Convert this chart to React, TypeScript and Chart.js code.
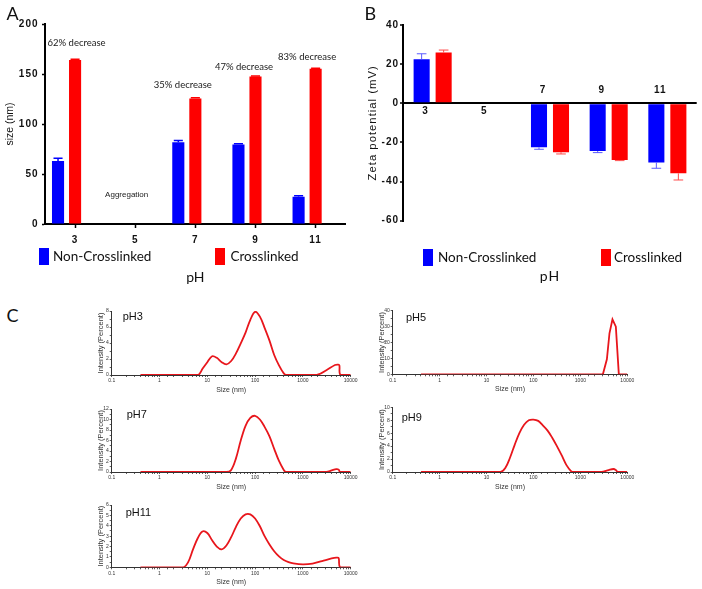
import React, { useEffect, useRef } from 'react';
import { Chart, registerables } from 'chart.js';

Chart.register(...registerables);
Chart.defaults.font.family = '"Liberation Sans", Arial, Helvetica, sans-serif';
Chart.defaults.color = '#111';

// ---------------- data ----------------
const phCategories = ['3', '5', '7', '9', '11'];
const seriesNames = ['Non-Crosslinked', 'Crosslinked'];

// Panel A: particle size (nm)
const sizeNonCrosslinked = [63, null, 81.8, 79.4, 27.3];
const sizeNonCrosslinkedErr = [2.7, null, 1.6, 0.8, 1.0];
const sizeCrosslinked = [164, null, 125.5, 147.5, 155.2];
const sizeCrosslinkedErr = [0.8, null, 0.8, 0.5, 0.6];
const sizeSpacer = [null, null, null, null, null];
const sizeNotes = ['62% decrease', 'Aggregation', '35% decrease', '47% decrease', '83% decrease'];
const sizeAxisTicks = [0, 50, 100, 150, 200];

// Panel B: zeta potential (mV)
const zetaNonCrosslinked = [22.5, null, -22.5, -24.4, -30.2];
const zetaNonCrosslinkedErr = [2.8, null, 1.0, 0.8, 3.0];
const zetaCrosslinked = [25.9, null, -25.0, -29.0, -35.8];
const zetaCrosslinkedErr = [1.3, null, 0.9, 0.3, 3.4];
const zetaAxisTicks = [-60, -40, -20, 0, 20, 40];

// Panel C: DLS intensity distributions (size in nm, intensity in %)
const ph3Size = [0.4, 1, 5, 6.5, 8, 10, 12.6, 15.8, 20, 25.1, 31.6, 39.8, 50.1, 63.1, 79.4, 100, 126, 158, 200, 251, 316, 398, 447, 1000, 1950, 3150, 4700, 5500, 5800, 6100, 10000];
const ph3Intensity = [0, 0, 0, 0, 0.8, 1.6, 2.35, 2.15, 1.6, 1.33, 1.75, 2.7, 3.95, 5.3, 6.9, 7.9, 7.3, 5.9, 4.3, 2.5, 1.2, 0.2, 0, 0, 0, 0.63, 1.25, 1.3, 1.2, 0, 0];
const ph5Size = [0.4, 1000, 3020, 3670, 4170, 4830, 5700, 6600, 10000];
const ph5Intensity = [0, 0, 0, 9.4, 25.8, 34.6, 30, 0, 0];
const ph7Size = [0.4, 1, 10, 25.1, 31.6, 39.8, 50.1, 63.1, 79.4, 100, 126, 158, 200, 251, 316, 398, 447, 1000, 3100, 4000, 5000, 5600, 6000, 10000];
const ph7Intensity = [0, 0, 0, 0, 0.4, 2.6, 6.0, 8.8, 10.3, 10.7, 10.0, 8.6, 6.8, 4.4, 2.1, 0.4, 0, 0, 0, 0.3, 0.55, 0.45, 0, 0];
const ph9Size = [0.4, 1, 10, 20, 25.1, 31.6, 39.8, 50.1, 63.1, 79.4, 100, 126, 158, 200, 251, 316, 398, 501, 631, 708, 1000, 2800, 4000, 5070, 5700, 6300, 10000];
const ph9Intensity = [0, 0, 0, 0, 0.6, 2.2, 4.2, 6.0, 7.3, 8.0, 8.1, 7.9, 7.2, 6.4, 5.3, 4.0, 2.6, 1.1, 0.15, 0, 0, 0, 0.3, 0.46, 0.3, 0, 0];
const ph11Size = [0.4, 1, 3.16, 3.98, 5.0, 6.3, 7.9, 10, 12.6, 15.8, 20, 25.1, 31.6, 39.8, 50.1, 63.1, 79.4, 100, 126, 158, 200, 251, 316, 398, 501, 631, 1000, 1585, 2512, 3981, 5012, 5600, 6000, 10000];
const ph11Intensity = [0, 0, 0, 0.5, 1.7, 2.8, 3.45, 3.3, 2.6, 2.0, 1.73, 2.1, 2.9, 3.9, 4.7, 5.1, 5.1, 4.7, 3.95, 3.0, 2.2, 1.55, 1.05, 0.7, 0.5, 0.38, 0.29, 0.36, 0.6, 0.85, 0.93, 0.9, 0, 0];

// ---------------- styles ----------------
const BLUE = '#0000fe';
const RED = '#fe0000';
const BLUE_ERR = '#5a5aff';
const RED_ERR = '#ff4a4a';
const LINE_RED = '#e8161c';
const AXIS_GREY = '#333';
const HUMANIST = 'Lato, "Open Sans", sans-serif';
const ARIAL = '"Liberation Sans", Arial, sans-serif';

// ---------------- plugins ----------------
const letterSpacingPlugin = {
  id: 'letterSpacing',
  beforeDraw(chart: any, _a: any, opts: any) {
    Object.values(chart.scales).forEach((s: any) => {
      if (s.__spaced) return;
      s.__spaced = true;
      const dl = s.drawLabels.bind(s);
      const dt = s.drawTitle.bind(s);
      s.drawLabels = (area: any) => {
        const c = s.ctx; const p = c.letterSpacing;
        c.letterSpacing = opts.labels || '0px'; dl(area); c.letterSpacing = p;
      };
      s.drawTitle = (area: any) => {
        const c = s.ctx; const p = c.letterSpacing;
        c.letterSpacing = opts.title || '0px'; dt(area); c.letterSpacing = p;
      };
    });
  },
};

const errorBars = {
  id: 'errorBars',
  afterDatasetsDraw(chart: any, _a: any, opts: any) {
    const { ctx } = chart;
    const yScale = chart.scales.y;
    chart.data.datasets.forEach((ds: any, di: number) => {
      if (!ds.errors) return;
      const meta = chart.getDatasetMeta(di);
      meta.data.forEach((bar: any, i: number) => {
        const v = ds.data[i];
        const e = ds.errors[i];
        if (v == null || e == null) return;
        const yv = yScale.getPixelForValue(v);
        const ye = yScale.getPixelForValue(v >= 0 ? v + e : v - e);
        const half = (bar.width * opts.capRatio) / 2;
        ctx.save();
        ctx.strokeStyle = ds.errorColor;
        ctx.lineWidth = opts.lineWidth;
        ctx.beginPath();
        ctx.moveTo(bar.x, yv);
        ctx.lineTo(bar.x, ye);
        ctx.moveTo(bar.x - half, ye);
        ctx.lineTo(bar.x + half, ye);
        ctx.stroke();
        ctx.restore();
      });
    });
  },
};

const sizeNotesPlugin = {
  id: 'sizeNotes',
  afterDatasetsDraw(chart: any, _a: any, opts: any) {
    const { ctx } = chart;
    const m0 = chart.getDatasetMeta(0);
    const m1 = chart.getDatasetMeta(1);
    const zero = chart.scales.y.getPixelForValue(0);
    ctx.save();
    ctx.fillStyle = '#1a1a1a';
    ctx.textAlign = 'center';
    ctx.textBaseline = 'alphabetic';
    opts.labels.forEach((text: string, i: number) => {
      const cx = (m0.data[i].x + m1.data[i].x) / 2 + opts.dx[i];
      const red = chart.data.datasets[1].data[i];
      if (red == null) {
        ctx.font = opts.noteFont;
        ctx.fillText(text, cx, zero - opts.noteRise);
      } else {
        ctx.font = opts.font;
        ctx.fillText(text, cx, m1.data[i].y - opts.gaps[i]);
      }
    });
    ctx.restore();
  },
};

const zetaCategoryLabels = {
  id: 'zetaCategoryLabels',
  afterDraw(chart: any, _a: any, opts: any) {
    const { ctx } = chart;
    const { x, y } = chart.scales;
    const zero = y.getPixelForValue(0);
    ctx.save();
    ctx.font = opts.font;
    ctx.letterSpacing = '1px';
    ctx.fillStyle = '#111';
    ctx.textAlign = 'center';
    ctx.textBaseline = 'middle';
    chart.data.labels.forEach((lab: string, i: number) => {
      const vals = chart.data.datasets.map((d: any) => d.data[i]).filter((v: any) => v != null);
      const neg = vals.some((v: number) => v < 0);
      const px = x.getPixelForValue(i) + opts.dx;
      const py = neg ? zero - opts.above : zero + opts.below;
      ctx.fillText(lab, px, py);
    });
    ctx.restore();
  },
};

const panelLabelPlugin = {
  id: 'panelLabel',
  afterDraw(chart: any, _a: any, opts: any) {
    const { ctx, chartArea } = chart;
    ctx.save();
    ctx.font = opts.font;
    ctx.fillStyle = '#111';
    ctx.textAlign = 'left';
    ctx.textBaseline = 'alphabetic';
    ctx.fillText(opts.text, chartArea.left + opts.dx, chartArea.top + opts.dy);
    ctx.restore();
  },
};

// ---------------- layout ----------------
type Box = { left: number; top: number; width: number; height: number };
type Area = { left: number; top: number; right: number; bottom: number };

const boxA: Box = { left: 0, top: 0, width: 350, height: 295 };
const areaA: Area = { left: 45, top: 24, right: 345.7, bottom: 224 };
const boxB: Box = { left: 350, top: 0, width: 352, height: 295 };
const areaB: Area = { left: 403.3, top: 25, right: 696.7, bottom: 220.7 };

function fixedTicks(values: number[]) {
  return (scale: any) => {
    scale.ticks = values.map((v) => ({ value: v }));
  };
}

function configA(): any {
  return {
    type: 'bar',
    data: {
      labels: phCategories,
      datasets: [
        { label: seriesNames[0], data: sizeNonCrosslinked, backgroundColor: BLUE, errors: sizeNonCrosslinkedErr, errorColor: BLUE },
        { label: seriesNames[1], data: sizeCrosslinked, backgroundColor: RED, errors: sizeCrosslinkedErr, errorColor: RED },
        { label: '', data: sizeSpacer, backgroundColor: 'rgba(0,0,0,0)' },
      ],
    },
    plugins: [letterSpacingPlugin, errorBars, sizeNotesPlugin],
    options: {
      responsive: false,
      animation: false,
      events: [],
      datasets: { bar: { categoryPercentage: 0.85, barPercentage: 0.71 } },
      layout: {
        padding: { left: 0, top: areaA.top - boxA.top, right: boxA.left + boxA.width - areaA.right, bottom: 0 },
      },
      plugins: {
        legend: { display: false },
        tooltip: { enabled: false },
        letterSpacing: { labels: '1px', title: '0px' },
        errorBars: { capRatio: 0.75, lineWidth: 1.5 },
        sizeNotes: {
          labels: sizeNotes,
          font: `9.5px ${HUMANIST}`,
          noteFont: `8px ${ARIAL}`,
          noteRise: 27,
          gaps: [14, 0, 10.5, 6.5, 9],
          dx: [10, 0, -4, -3, 0],
        },
      },
      scales: {
        x: {
          type: 'category',
          offset: true,
          afterFit: (s: any) => { s.height = boxA.top + boxA.height - areaA.bottom; },
          grid: { display: true, offset: false, drawOnChartArea: false, drawTicks: true, tickLength: 4, tickColor: '#000', tickWidth: 1.5 },
          border: { display: true, color: '#000', width: 2 },
          ticks: { font: { size: 10, weight: 'bold' }, color: '#111', padding: 6, maxRotation: 0 },
          title: { display: true, text: 'pH', font: { family: HUMANIST, size: 14 }, color: '#111', padding: { top: 0, bottom: 9.1 } },
        },
        y: {
          min: 0,
          max: 200,
          afterBuildTicks: fixedTicks(sizeAxisTicks),
          afterFit: (s: any) => { s.width = areaA.left - boxA.left; },
          grid: { display: true, drawOnChartArea: false, drawTicks: true, tickLength: 3, tickColor: '#000', tickWidth: 1.5 },
          border: { display: true, color: '#000', width: 2 },
          ticks: { font: { size: 10, weight: 'bold' }, color: '#111', padding: 3.5 },
          title: { display: true, text: 'size (nm)', font: { size: 10.5 }, color: '#111', padding: { top: 3.7, bottom: 0 } },
        },
      },
    },
  };
}

function configB(): any {
  return {
    type: 'bar',
    data: {
      labels: phCategories,
      datasets: [
        { label: seriesNames[0], data: zetaNonCrosslinked, backgroundColor: BLUE, errors: zetaNonCrosslinkedErr, errorColor: BLUE_ERR },
        { label: seriesNames[1], data: zetaCrosslinked, backgroundColor: RED, errors: zetaCrosslinkedErr, errorColor: RED_ERR },
      ],
    },
    plugins: [letterSpacingPlugin, errorBars, zetaCategoryLabels],
    options: {
      responsive: false,
      animation: false,
      events: [],
      datasets: { bar: { categoryPercentage: 0.75, barPercentage: 0.73 } },
      layout: {
        padding: { left: 0, top: areaB.top - boxB.top, right: boxB.left + boxB.width - areaB.right, bottom: 0 },
      },
      plugins: {
        legend: { display: false },
        tooltip: { enabled: false },
        letterSpacing: { labels: '1px', title: '1px' },
        errorBars: { capRatio: 0.6, lineWidth: 1 },
        zetaCategoryLabels: { font: `bold 10px ${ARIAL}`, dx: -7, above: 13.3, below: 7.7 },
      },
      scales: {
        x: {
          type: 'category',
          offset: true,
          afterFit: (s: any) => { s.height = boxB.top + boxB.height - areaB.bottom; },
          grid: { display: false },
          border: { display: false },
          ticks: { display: false },
          title: { display: true, text: 'pH', font: { family: HUMANIST, size: 14 }, color: '#111', padding: { top: 0, bottom: 9.9 } },
        },
        y: {
          min: -60,
          max: 40,
          afterBuildTicks: fixedTicks(zetaAxisTicks),
          afterFit: (s: any) => { s.width = areaB.left - boxB.left; },
          grid: {
            display: true,
            drawOnChartArea: true,
            drawTicks: true,
            tickLength: 3.3,
            tickColor: '#000',
            tickWidth: 1.5,
            lineWidth: 2,
            color: (ctx: any) => (ctx.tick && ctx.tick.value === 0 ? '#000' : 'rgba(0,0,0,0)'),
          },
          border: { display: true, color: '#000', width: 2 },
          ticks: { font: { size: 10, weight: 'bold' }, color: '#111', padding: 1 },
          title: { display: true, text: 'Zeta potential (mV)', font: { size: 11.3 }, color: '#111', padding: { top: 16, bottom: 0 } },
        },
      },
    },
  };
}

type CPanel = {
  label: string;
  sizes: number[];
  intensity: number[];
  yMax: number;
  yStep: number;
  col: number;
  top: number;
  bottom: number;
  dx: number;
  dy: number;
  smooth: boolean;
};

const cColumns = [
  { canvasLeft: 85, canvasWidth: 275, areaLeft: 111.7, areaRight: 350.7, padLeft: 11.5 },
  { canvasLeft: 368, canvasWidth: 280, areaLeft: 392.7, areaRight: 627.3, padLeft: 9.5 },
];

const cPanels: CPanel[] = [
  { label: 'pH3', sizes: ph3Size, intensity: ph3Intensity, yMax: 8, yStep: 2, col: 0, top: 311, bottom: 375, dx: 11, dy: 8.6, smooth: true },
  { label: 'pH5', sizes: ph5Size, intensity: ph5Intensity, yMax: 40, yStep: 10, col: 1, top: 310.7, bottom: 374.3, dx: 13.3, dy: 9.9, smooth: false },
  { label: 'pH7', sizes: ph7Size, intensity: ph7Intensity, yMax: 12, yStep: 2, col: 0, top: 409, bottom: 472, dx: 15, dy: 9, smooth: true },
  { label: 'pH9', sizes: ph9Size, intensity: ph9Intensity, yMax: 10, yStep: 2, col: 1, top: 407.3, bottom: 472, dx: 9, dy: 13.3, smooth: true },
  { label: 'pH11', sizes: ph11Size, intensity: ph11Intensity, yMax: 6, yStep: 1, col: 0, top: 505, bottom: 567.3, dx: 14, dy: 11, smooth: true },
];

function isPow10(v: number) {
  const l = Math.log10(v);
  return Math.abs(l - Math.round(l)) < 1e-9;
}

function cBox(p: CPanel): Box {
  const c = cColumns[p.col];
  const top = Math.floor(p.top - 12);
  const bottom = Math.min(589, Math.ceil(p.bottom + 22));
  return { left: c.canvasLeft, top, width: c.canvasWidth, height: bottom - top };
}

function configC(p: CPanel): any {
  const c = cColumns[p.col];
  const box = cBox(p);
  const axisH = box.top + box.height - p.bottom;
  const titleCenterFromBottom = axisH - 15;
  return {
    type: 'line',
    data: {
      datasets: [
        {
          data: p.sizes.map((s, i) => ({ x: s, y: p.intensity[i] })),
          borderColor: LINE_RED,
          borderWidth: 1.8,
          pointRadius: 0,
          fill: false,
          tension: p.smooth ? 0.35 : 0,
        },
      ],
    },
    plugins: [panelLabelPlugin],
    options: {
      responsive: false,
      animation: false,
      events: [],
      layout: {
        padding: { left: c.padLeft, top: p.top - box.top, right: box.left + box.width - c.areaRight, bottom: 0 },
      },
      plugins: {
        legend: { display: false },
        tooltip: { enabled: false },
        panelLabel: { text: p.label, font: `11px ${ARIAL}`, dx: p.dx, dy: p.dy },
      },
      scales: {
        x: {
          type: 'logarithmic',
          min: 0.1,
          max: 10000,
          afterFit: (s: any) => { s.height = axisH; },
          grid: { display: true, drawOnChartArea: false, drawTicks: true, tickLength: 2, tickColor: AXIS_GREY, tickWidth: 0.8 },
          border: { display: true, color: AXIS_GREY, width: 1 },
          ticks: {
            autoSkip: false,
            maxRotation: 0,
            padding: 1,
            font: { size: 5 },
            color: '#333',
            callback: (v: any) => (isPow10(Number(v)) ? String(Number(v)) : ''),
          },
          title: { display: true, text: 'Size (nm)', font: { size: 7 }, color: '#333', padding: { top: 0, bottom: titleCenterFromBottom - 4.2 } },
        },
        y: {
          min: 0,
          max: p.yMax,
          afterFit: (s: any) => { s.width = c.areaLeft - c.canvasLeft - c.padLeft; },
          grid: { display: true, drawOnChartArea: false, drawTicks: true, tickLength: 2, tickColor: AXIS_GREY, tickWidth: 0.8 },
          border: { display: true, color: AXIS_GREY, width: 1 },
          ticks: {
            stepSize: p.yStep / 2,
            autoSkip: false,
            padding: 1,
            font: { size: 5 },
            color: '#333',
            callback: (v: any) => {
              const r = Number(v) / p.yStep;
              return Math.abs(r - Math.round(r)) < 1e-6 ? String(Number(v)) : '';
            },
          },
          title: { display: true, text: 'Intensity (Percent)', font: { size: 7.5 }, color: '#333', padding: { top: 0, bottom: 0 } },
        },
      },
    },
  };
}

// ---------------- components ----------------
function ChartCanvas({ box, make }: { box: Box; make: () => any }) {
  const ref = useRef<HTMLCanvasElement | null>(null);
  useEffect(() => {
    if (!ref.current) return;
    const chart = new Chart(ref.current, make());
    return () => chart.destroy();
  }, []);
  return (
    <canvas
      ref={ref}
      width={box.width}
      height={box.height}
      style={{ position: 'absolute', left: box.left, top: box.top, width: box.width, height: box.height }}
    />
  );
}

function LegendItem({ x, y, color, text, swatchX }: { x: number; y: number; color: string; text: string; swatchX: number }) {
  return (
    <>
      <div style={{ position: 'absolute', left: swatchX, top: y - 1, width: 10, height: 16.5, background: color }} />
      <div style={{ position: 'absolute', left: x, top: y - 1.5, font: `13.5px/1.2 ${HUMANIST}`, color: '#111', whiteSpace: 'nowrap' }}>{text}</div>
    </>
  );
}

const letterStyle: React.CSSProperties = { position: 'absolute', font: `18px/1.2 ${HUMANIST}`, color: '#111' };

export default function App() {
  return (
    <div style={{ position: 'absolute', left: 0, top: 0, width: 702, height: 589, background: '#fff', overflow: 'hidden' }}>
      <ChartCanvas box={boxA} make={configA} />
      <ChartCanvas box={boxB} make={configB} />
      {cPanels.map((p) => (
        <ChartCanvas key={p.label} box={cBox(p)} make={() => configC(p)} />
      ))}
      <div style={{ ...letterStyle, left: 6.5, top: 2.5 }}>A</div>
      <div style={{ ...letterStyle, left: 364.5, top: 2.5 }}>B</div>
      <div style={{ ...letterStyle, left: 6.5, top: 305 }}>C</div>
      <LegendItem swatchX={39} x={53} y={249} color={BLUE} text={seriesNames[0]} />
      <LegendItem swatchX={215} x={230.5} y={249} color={RED} text={seriesNames[1]} />
      <LegendItem swatchX={422.7} x={438} y={250} color={BLUE} text={seriesNames[0]} />
      <LegendItem swatchX={601} x={614} y={250} color={RED} text={seriesNames[1]} />
    </div>
  );
}
